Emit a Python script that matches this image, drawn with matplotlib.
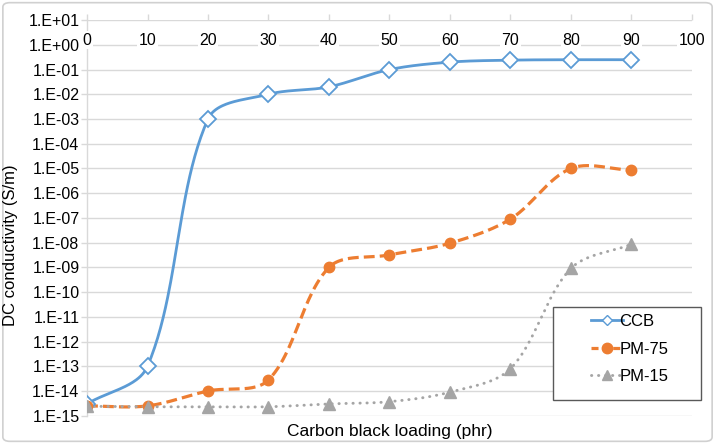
import numpy as np
import matplotlib
matplotlib.use("Agg")
import matplotlib.pyplot as plt
from matplotlib.patches import FancyBboxPatch, Rectangle
from matplotlib.lines import Line2D

plt.rcParams['font.family'] = ['Liberation Sans', 'DejaVu Sans']

loading = [0, 10, 20, 30, 40, 50, 60, 70, 80, 90]
ccb = [3e-15, 1e-13, 1e-3, 1e-2, 2e-2, 1e-1, 2e-1, 2.4e-1, 2.5e-1, 2.5e-1]
pm75 = [2.5e-15, 2.5e-15, 1e-14, 2.8e-14, 1e-9, 3.2e-9, 9.5e-9, 9e-8, 1e-5, 8.5e-6]
pm15 = [2.4e-15, 2.3e-15, 2.3e-15, 2.3e-15, 3e-15, 3.7e-15, 9e-15, 8e-14, 9e-10, 8.6e-9]
series_names = ['CCB', 'PM-75', 'PM-15']
ytick_labels = ['1.E-15', '1.E-14', '1.E-13', '1.E-12', '1.E-11', '1.E-10', '1.E-09',
                '1.E-08', '1.E-07', '1.E-06', '1.E-05', '1.E-04', '1.E-03', '1.E-02',
                '1.E-01', '1.E+00', '1.E+01']
xticks = [0, 10, 20, 30, 40, 50, 60, 70, 80, 90, 100]

# pixel scale of plot (for Excel-like smoothing in screen space)
PX_X = 6.05   # px per phr
PX_Y = 24.7   # px per decade


def smooth(xs, ys, n=50):
    """Excel-like Bezier smoothing in screen space (x, log10 y)."""
    x = np.asarray(xs, float) * PX_X
    y = np.log10(np.asarray(ys, float)) * PX_Y
    P = np.column_stack([x, y])
    P = np.vstack([P[0], P, P[-1]])
    out = []
    for i in range(1, len(P) - 2):
        p0, p1, p2, p3 = P[i - 1], P[i], P[i + 1], P[i + 2]
        d01 = np.hypot(*(p1 - p0))
        d12 = np.hypot(*(p2 - p1))
        d23 = np.hypot(*(p3 - p2))
        f1 = d12 / (d01 + d12) / 3.0
        f2 = d12 / (d12 + d23) / 3.0
        c1 = p1 + (p2 - p0) * f1
        c2 = p2 - (p3 - p1) * f2
        t = np.linspace(0, 1, n)[:, None]
        seg = ((1 - t) ** 3) * p1 + 3 * ((1 - t) ** 2) * t * c1 + 3 * (1 - t) * t ** 2 * c2 + t ** 3 * p2
        if i > 1:
            seg = seg[1:]
        out.append(seg)
    out = np.vstack(out)
    return out[:, 0] / PX_X, 10 ** (out[:, 1] / PX_Y)


fig = plt.figure(figsize=(7.15, 4.44), dpi=100)
fig.patches.append(FancyBboxPatch((0.004, 0.006), 0.992, 0.988, boxstyle="round,pad=0,rounding_size=0.01",
                                  transform=fig.transFigure, facecolor='white', edgecolor='#d0d0d0',
                                  linewidth=1.2, zorder=-10))
ax = fig.add_axes([0.1217, 0.0637, 0.846, 0.891])
ax.set_facecolor('none')
ax.set_yscale('log')
ax.set_xlim(0, 100)
ax.set_ylim(1e-15, 1e1)

yt = [10.0 ** k for k in range(-15, 2)]
ax.set_yticks(yt)
ax.set_yticklabels(ytick_labels, fontsize=11.5)
ax.yaxis.set_minor_locator(matplotlib.ticker.NullLocator())
ax.tick_params(axis='y', length=4, width=1, color='#d9d9d9', pad=1.5, labelcolor='#000000')
for v in yt:
    ax.axhline(v, color='#d9d9d9', lw=1.0, zorder=0)

ax.set_xticks(xticks)
ax.tick_params(axis='x', bottom=False, labelbottom=False, top=True, labeltop=False,
               length=4, direction='out', color='#d9d9d9', width=1)
for xv in xticks:
    ax.text(xv, 1.0, str(xv), ha='center', va='baseline', fontsize=11.5,
            bbox=dict(facecolor='white', edgecolor='none', pad=1.0), zorder=5)

for s in ['top', 'right', 'bottom']:
    ax.spines[s].set_visible(False)
ax.spines['left'].set_color('#d9d9d9')
ax.spines['left'].set_linewidth(1.0)

c_ccb, c_75, c_15 = '#5b9bd5', '#ed7d31', '#a5a5a5'
d75 = (3.4, 1.6)
d15 = (0.1, 2.3)

sx, sy = smooth(loading, ccb)
ax.plot(sx, sy, color=c_ccb, lw=2.0, zorder=3)
ax.plot(loading, ccb, ls='none', marker='D', ms=8, mfc='white', mec=c_ccb, mew=1.3, zorder=4)

sx, sy = smooth(loading, pm75)
ax.plot(sx, sy, color=c_75, lw=2.3, dashes=d75, zorder=3)
ax.plot(loading, pm75, ls='none', marker='o', ms=7.5, mfc=c_75, mec=c_75, zorder=4)

sx, sy = smooth(loading, pm15)
ax.plot(sx, sy, color=c_15, lw=2.1, dashes=d15, dash_capstyle='round', zorder=3)
ax.plot(loading, pm15, ls='none', marker='^', ms=9, mfc=c_15, mec=c_15, zorder=4)

fig.text(11 / 715, 1 - 245 / 444, 'DC conductivity (S/m)', rotation=90, ha='center', va='center',
         fontsize=12)
fig.text(390 / 715, 1 - 431 / 444, 'Carbon black loading (phr)', ha='center', va='center',
         fontsize=12.5)

# legend frame
fig.patches.append(Rectangle((553 / 715, 1 - 400 / 444), 148 / 715, 93 / 444, transform=fig.transFigure,
                             facecolor='white', edgecolor='#595959', linewidth=1.0, zorder=5))
handles = [
    Line2D([], [], color=c_ccb, lw=2.0, marker='D', ms=5, mfc='white', mec=c_ccb),
    Line2D([], [], color=c_75, lw=2.3, dashes=(2.2, 1.2), marker='o', ms=7.5, mfc=c_75, mec=c_75),
    Line2D([], [], color=c_15, lw=2.1, dashes=d15, dash_capstyle='round', marker='^', ms=7, mfc=c_15, mec=c_15),
]
leg = fig.legend(handles, series_names, loc='upper left', bbox_to_anchor=(586 / 715, 1 - 309 / 444),
                 frameon=False, fontsize=12, handlelength=1.9, handletextpad=-0.2, borderpad=0.3,
                 labelspacing=0.75, borderaxespad=0)
leg.set_zorder(6)

fig.savefig('out.png', dpi=100)
